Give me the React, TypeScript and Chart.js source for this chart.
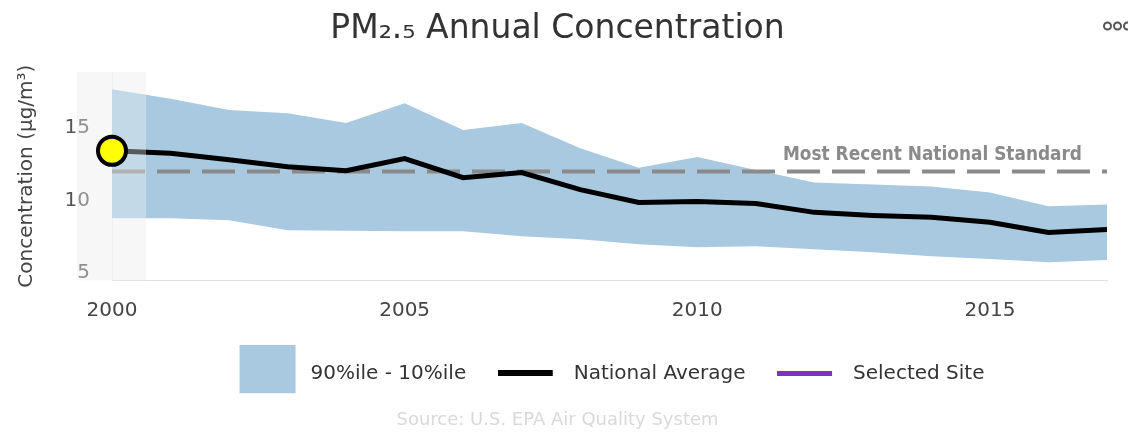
import React, { useEffect, useRef } from 'react';
import { Chart, registerables } from 'chart.js';

Chart.register(...registerables);

// ---- data ----
const years = [2000, 2001, 2002, 2003, 2004, 2005, 2006, 2007, 2008, 2009, 2010, 2011, 2012, 2013, 2014, 2015, 2016, 2017];
const p90 = [17.67, 17.0, 16.23, 16.0, 15.34, 16.7, 14.86, 15.34, 13.6, 12.26, 13.0, 12.1, 11.23, 11.1, 10.96, 10.55, 9.6, 9.73];
const p10 = [8.77, 8.77, 8.63, 7.95, 7.92, 7.88, 7.88, 7.53, 7.33, 6.99, 6.78, 6.85, 6.64, 6.44, 6.16, 5.96, 5.75, 5.89];
const nationalAvg = [13.42, 13.25, 12.8, 12.33, 12.05, 12.88, 11.57, 11.92, 10.75, 9.86, 9.93, 9.79, 9.18, 8.97, 8.84, 8.5, 7.8, 8.0];
const selectedSite: number[] = [];
const standardValue = 12;
const standardLabel = 'Most Recent National Standard';
const selectedYear = 2000;
const xTickValues = [2000, 2005, 2010, 2015];
const yTickValues = [5, 10, 15];
const legendLabels = ['90%ile - 10%ile', 'National Average', 'Selected Site'];
const titleText = 'PM\u2082.\u2085 Annual Concentration';
const yAxisTitle = 'Concentration (\u00b5g/m\u00b3)';
const sourceText = 'Source: U.S. EPA Air Quality System';

const FONT = '"DejaVu Sans", "Open Sans", sans-serif';
const BLUE = '#a8c9df';
const PURPLE = '#7b33c2';
const GREY = '#8a8a8a';

export default function App() {
  const ref = useRef<HTMLCanvasElement>(null);

  useEffect(() => {
    const canvas = ref.current;
    if (!canvas) return;

    const makeImg = (w: number, h: number, draw: (g: CanvasRenderingContext2D) => void) => {
      const c = document.createElement('canvas');
      c.width = w;
      c.height = h;
      const g = c.getContext('2d')!;
      draw(g);
      return c;
    };
    const bandImg = makeImg(66, 56, (g) => { g.fillStyle = BLUE; g.fillRect(5, 0, 56, 56); });
    const avgImg = makeImg(66, 6, (g) => { g.fillStyle = '#000'; g.fillRect(0, 0, 55, 6); });
    const siteImg = makeImg(66, 5, (g) => { g.fillStyle = PURPLE; g.fillRect(0, 0, 55, 5); });
    const legendImgs = [bandImg, avgImg, siteImg];
    const legendColors = [BLUE, '#000', PURPLE];

    const pts = (vals: number[]) => vals.map((v, i) => ({ x: years[i], y: v }));
    const selIdx = years.indexOf(selectedYear);

    const bandPlugin = {
      id: 'selBand',
      beforeDraw(chart: any) {
        const { ctx, chartArea, scales } = chart;
        const cx = scales.x.getPixelForValue(selectedYear);
        ctx.save();
        ctx.fillStyle = '#f8f8f8';
        ctx.fillRect(cx - 35, chartArea.top, 69, chartArea.bottom - chartArea.top);
        ctx.restore();
      },
      afterDatasetDraw(chart: any, args: any) {
        if (args.index !== 1) return;
        const { ctx, chartArea, scales } = chart;
        const cx = scales.x.getPixelForValue(selectedYear);
        ctx.save();
        ctx.fillStyle = 'rgba(248,248,248,0.36)';
        ctx.fillRect(cx - 35, chartArea.top, 69, chartArea.bottom - chartArea.top);
        ctx.restore();
      },
      afterDatasetsDraw(chart: any) {
        const { ctx, chartArea, scales } = chart;
        const yy = scales.y.getPixelForValue(standardValue) - 11;
        ctx.save();
        ctx.font = `bold 20px ${FONT}`;
        const w = ctx.measureText(standardLabel).width;
        ctx.translate(chartArea.right - 25, yy);
        ctx.scale(299 / w, 1);
        ctx.textAlign = 'right';
        ctx.textBaseline = 'alphabetic';
        ctx.fillStyle = GREY;
        ctx.fillText(standardLabel, 0, 0);
        ctx.restore();
      },
      afterDraw(chart: any) {
        const { ctx } = chart;
        ctx.save();
        ctx.strokeStyle = '#555';
        ctx.lineWidth = 2;
        [1099.5, 1109.5, 1119.5].forEach((x) => {
          ctx.beginPath();
          ctx.arc(x, 18, 3.5, 0, Math.PI * 2);
          ctx.stroke();
        });
        ctx.restore();
      },
    };

    const chart = new Chart(canvas, {
      type: 'line',
      data: {
        datasets: [
          {
            label: 'selected',
            data: [{ x: selectedYear, y: nationalAvg[selIdx] }],
            showLine: false,
            pointRadius: 14,
            pointBackgroundColor: '#ffff00',
            pointBorderColor: '#000',
            pointBorderWidth: 4,
            clip: false,
          } as any,
          {
            label: legendLabels[1],
            data: pts(nationalAvg),
            borderColor: '#000',
            borderWidth: 5,
            pointRadius: 0,
            fill: false,
            tension: 0,
          },
          {
            label: 'standard',
            data: [{ x: years[0], y: standardValue }, { x: years[years.length - 1], y: standardValue }],
            borderColor: GREY,
            borderWidth: 4,
            borderDash: [33, 12],
            pointRadius: 0,
            fill: false,
          },
          {
            label: legendLabels[0],
            data: pts(p90),
            borderColor: 'transparent',
            backgroundColor: BLUE,
            pointRadius: 0,
            fill: '+1',
            tension: 0,
          },
          {
            label: 'p10',
            data: pts(p10),
            borderColor: 'transparent',
            pointRadius: 0,
            fill: false,
            tension: 0,
          },
          {
            label: legendLabels[2],
            data: selectedSite.map((v, i) => ({ x: years[i], y: v })),
            borderColor: PURPLE,
            borderWidth: 5,
            pointRadius: 0,
          },
        ],
      },
      options: {
        animation: false,
        responsive: true,
        maintainAspectRatio: false,
        events: [],
        layout: { padding: { left: 0, right: 21, top: 0, bottom: 0 } },
        scales: {
          x: {
            type: 'linear',
            min: years[0],
            max: years[years.length - 1],
            grid: { display: false, drawTicks: false },
            border: { display: true, color: '#e0e0e0', width: 1 },
            ticks: {
              padding: 18,
              color: '#444',
              font: { family: FONT, size: 20 },
              maxRotation: 0,
              autoSkip: false,
              callback: (v: any) => String(v),
            },
            afterBuildTicks: (s: any) => { s.ticks = xTickValues.map((v) => ({ value: v })); },
            afterFit: (s: any) => { s.height = 51.5; },
          },
          y: {
            min: 4.5,
            max: 18.85,
            grid: { display: false, drawTicks: false },
            border: { display: true, color: '#ebebeb', width: 1 },
            ticks: {
              padding: 22,
              color: '#555',
              font: { family: FONT, size: 20 },
            },
            afterBuildTicks: (s: any) => { s.ticks = yTickValues.map((v) => ({ value: v })); },
            afterFit: (s: any) => { s.width = 104; },
            title: {
              display: true,
              text: yAxisTitle,
              color: '#444',
              font: { family: FONT, size: 20 },
              padding: { top: 7, bottom: 0 },
            },
          },
        },
        plugins: {
          title: {
            display: true,
            text: titleText,
            color: '#333',
            font: { family: FONT, size: 33, weight: 'normal' as any },
            padding: { top: 2, bottom: 22.4 },
          },
          subtitle: {
            display: true,
            text: sourceText,
            position: 'bottom',
            color: '#d9d9d9',
            font: { family: FONT, size: 18 },
            padding: { top: 16.5, bottom: 1.6 },
          },
          legend: {
            position: 'bottom',
            fullSize: false,
            align: 'center',
            onClick: () => {},
            labels: {
              usePointStyle: true,
              pointStyleWidth: 66,
              padding: 31.5,
              color: '#333',
              font: { family: FONT, size: 20 },
              generateLabels: () =>
                legendLabels.map((t, i) => ({
                  text: t,
                  pointStyle: legendImgs[i] as any,
                  fillStyle: legendColors[i],
                  strokeStyle: legendColors[i],
                  lineWidth: 0,
                  hidden: false,
                  fontColor: '#333',
                })) as any,
            },
          },
          tooltip: { enabled: false },
        },
      },
      plugins: [bandPlugin],
    });

    return () => chart.destroy();
  }, []);

  return (
    <div style={{ position: 'absolute', left: 8, top: 8, width: 1120, height: 425 }}>
      <canvas ref={ref} />
    </div>
  );
}
